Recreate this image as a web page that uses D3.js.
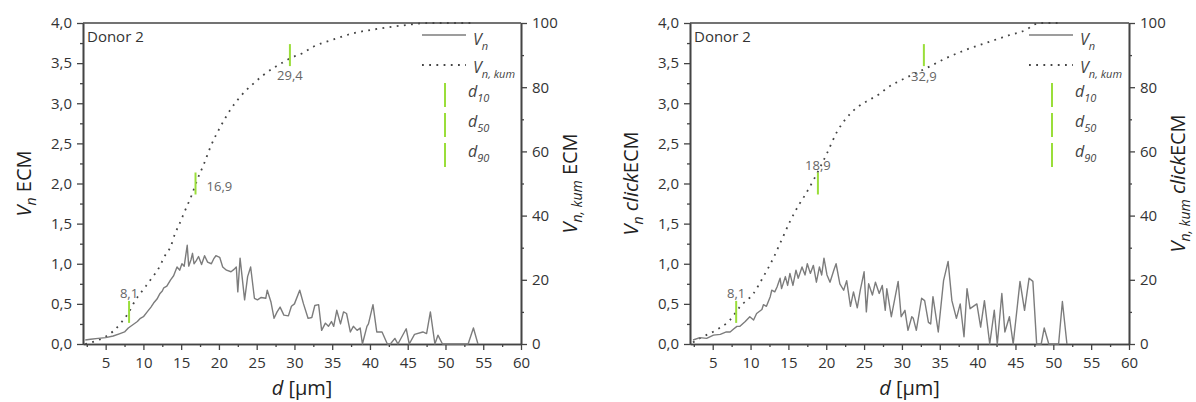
<!DOCTYPE html>
<html>
<head>
<meta charset="utf-8">
<script src="https://cdn.jsdelivr.net/npm/d3@7"></script>
<style>
  body { margin: 0; background: #fff; }
  svg { display: block; }
</style>
</head>
<body>
<script>
// x axis (d in µm)
var xDomain = [2, 60];
var xTicks = [5, 10, 15, 20, 25, 30, 35, 40, 45, 50, 55, 60];
var xMinor = [2.5, 7.5, 12.5, 17.5, 22.5, 27.5, 32.5, 37.5, 42.5, 47.5, 52.5, 57.5];
var yLeftTicks = [0, 0.5, 1, 1.5, 2, 2.5, 3, 3.5, 4];
var yLeftMinor = [0.25, 0.75, 1.25, 1.75, 2.25, 2.75, 3.25, 3.75];
var yRightTicks = [0, 20, 40, 60, 80, 100];
var yRightMinor = [10, 30, 50, 70, 90];

// left panel: ECM, Vn distribution [d, Vn]
var ecmVn = [
  [2.3,0.05],[3,0.06],[4,0.07],[5,0.08],[6,0.1],[6.9,0.13],[7.5,0.15],[8,0.2],[8.6,0.24],
  [9.2,0.28],[9.6,0.32],[10,0.34],[10.5,0.4],[11,0.46],[11.35,0.51],[11.8,0.56],[12.2,0.63],
  [12.5,0.66],[12.7,0.7],[13.1,0.72],[13.6,0.8],[14,0.85],[14.45,0.96],[14.8,0.92],[15.1,1],
  [15.4,0.97],[15.8,1.23],[16,0.97],[16.3,1.05],[16.5,1.13],[16.7,1],[17,1.04],[17.3,1.09],
  [17.7,0.99],[18.1,1.1],[18.5,1.02],[19,1],[19.3,1.06],[19.6,1.1],[20.1,1.08],[20.5,0.96],
  [21,0.92],[21.6,0.9],[22,0.93],[22.3,0.96],[22.5,0.65],[22.8,1.07],[23.4,0.55],[23.8,0.84],
  [24.2,0.96],[24.7,0.57],[25.1,0.55],[25.6,0.58],[26.2,0.57],[26.4,0.67],[26.9,0.52],
  [27.3,0.32],[27.7,0.4],[28.1,0.46],[28.6,0.36],[29.2,0.35],[29.6,0.47],[30,0.5],[30.7,0.67],
  [31.2,0.5],[31.8,0.32],[32.3,0.33],[32.7,0.48],[33.2,0.49],[33.6,0.17],[34.1,0.26],
  [34.5,0.22],[34.9,0.28],[35.2,0.22],[35.6,0.42],[36.1,0.25],[36.5,0.4],[36.9,0.38],
  [37.4,0.15],[37.8,0.22],[38.3,0.17],[38.7,0.2],[39,0],[39.6,0.22],[39.8,0.25],[40.4,0.49],
  [40.9,0.15],[41.6,0.15],[42.3,0],[42.7,0],[43.3,0.07],[43.7,0],[44.8,0.19],[45.2,0],
  [45.9,0.12],[47,0.15],[47.5,0.13],[48,0.4],[48.6,0],[49,0.11],[49.6,0],[53,0],[53.7,0.2],[54.3,0]
];
// left panel: cumulative [d, %]
var ecmKum = [
  [2.3,0],[3.5,0.8],[5,2.3],[6,4],[7,6.5],[8.1,10],[8.9,13.5],[10,17],[11.1,20.5],[12,23.5],
  [12.9,27.7],[13.6,30.3],[14.2,34.5],[14.7,37],[15.5,41.5],[16.4,46.4],[17.1,51],[18,56],
  [18.9,61.5],[20.2,67.7],[21.5,72.9],[22.8,77],[24.6,81.2],[25.9,83.8],[27.5,86.4],
  [28.6,87.9],[29.4,89],[31,90.5],[32.5,92.6],[35.2,94.9],[37.8,96.8],[41.4,98.3],
  [44.9,99.4],[47.6,100],[54,100]
];
var ecmMarks = [8.1, 16.9, 29.4];

// right panel: clickECM, Vn distribution [d, Vn]
var clickVn = [
  [2.4,0.05],[3.3,0.08],[4.2,0.07],[5.1,0.11],[6,0.12],[6.8,0.15],[7.3,0.15],[7.8,0.19],
  [8.2,0.22],[8.6,0.22],[9.3,0.28],[9.9,0.34],[10.4,0.3],[10.8,0.38],[11.5,0.43],[11.7,0.49],
  [12.1,0.47],[12.6,0.59],[12.8,0.67],[13.2,0.65],[13.5,0.71],[13.9,0.82],[14.1,0.69],
  [14.6,0.84],[14.9,0.73],[15.2,0.88],[15.6,0.73],[16,0.92],[16.3,0.82],[16.8,0.96],
  [17.2,0.86],[17.5,1],[17.9,0.88],[18.3,0.98],[18.7,0.77],[19.1,0.96],[19.4,0.86],
  [19.7,1.07],[20.1,0.86],[20.5,0.77],[21,0.92],[21.3,1],[21.8,0.75],[22.3,0.67],[22.7,0.79],
  [23.2,0.47],[23.6,0.65],[24.1,0.45],[24.5,0.67],[25,0.9],[25.3,0.4],[25.6,0.75],[26.1,0.61],
  [26.5,0.77],[27,0.63],[27.4,0.73],[27.8,0.42],[28,0.69],[28.6,0.34],[29.5,0.78],[29.9,0.34],
  [30.4,0.42],[30.8,0.17],[31.3,0.34],[31.5,0.32],[31.9,0.17],[32.6,0.57],[33,0.54],
  [33.5,0.27],[33.8,0.25],[34.1,0.59],[34.8,0.15],[35.5,0.79],[36.1,1.03],[36.6,0.54],
  [37.2,0.32],[37.7,0.5],[38.2,0.09],[38.6,0.69],[39,0.44],[39.9,0.5],[40.4,0.21],[40.9,0.54],
  [41.6,0],[42.2,0.42],[42.6,0],[43.2,0.63],[43.6,0.15],[44.2,0.34],[44.7,0],[45.6,0.78],
  [46.2,0.42],[46.8,0.82],[47.3,0.78],[47.8,0],[48.4,0],[48.8,0.2],[49.4,0],[50.7,0],
  [51.2,0.53],[51.8,0]
];
// right panel: cumulative [d, %]
var clickKum = [
  [2.4,0.5],[3.3,1.8],[5.5,4.4],[7.3,7.5],[8.6,11.6],[10.4,15.8],[11.7,21],[13,26.7],
  [14.1,32.4],[15.2,38.1],[16.5,43.8],[17.2,46.4],[18.3,51],[20.1,59.4],[21.4,66],
  [22.7,70.5],[24.2,73.9],[25.8,76.2],[27.1,78],[28,79.7],[29.3,81.5],[30.6,83],[33.2,85.9],
  [35.8,89],[38.4,91.6],[41.6,94.2],[44.3,96.3],[46.5,98],[47.4,99.4],[48.2,100],[51,100]
];
var clickMarks = [8.1, 18.9, 32.9];
var markPercent = [10, 50, 90];

var FONT = "'Open Sans', 'DejaVu Sans', sans-serif";
var GREEN = "#9ade3a";
var top_ = 23, bottom = 344;

var svg = d3.select("body").append("svg")
  .attr("width", 1196).attr("height", 402)
  .attr("font-family", FONT);

function comma(v, n) {
  return d3.format("." + n + "f")(v).replace(".", ",");
}

// parts: [text, italic, sub]
function rich(sel, parts, size, subSize, subDy) {
  var prevSub = false;
  parts.forEach(function(p) {
    var t = sel.append("tspan").text(p[0])
      .attr("font-style", p[1] ? "italic" : "normal")
      .attr("font-size", p[2] ? subSize : size);
    if (p[2] && !prevSub) t.attr("dy", subDy);
    if (!p[2] && prevSub) t.attr("dy", -subDy);
    prevSub = p[2];
  });
}

function styleAxis(g) {
  g.attr("font-family", FONT).attr("font-size", 15);
  g.select(".domain").attr("stroke", "#444").attr("stroke-width", 1.6);
  g.selectAll(".tick line").attr("stroke", "#444").attr("stroke-width", 1.3);
  g.selectAll(".tick text").attr("fill", "#333");
}

function panel(p) {
  var x = d3.scaleLinear().domain(xDomain).range([p.x0, p.x1]);
  var yL = d3.scaleLinear().domain([0, 4]).range([bottom, top_]);
  var yR = d3.scaleLinear().domain([0, 100]).range([bottom, top_]);
  var g = svg.append("g");

  // minor ticks
  g.append("g").attr("transform", "translate(0," + bottom + ")")
    .call(d3.axisBottom(x).tickValues(xMinor).tickSize(3).tickFormat("").tickSizeOuter(0))
    .call(styleAxis);
  g.append("g").attr("transform", "translate(" + p.x0 + ",0)")
    .call(d3.axisLeft(yL).tickValues(yLeftMinor).tickSize(3).tickFormat("").tickSizeOuter(0))
    .call(styleAxis);
  g.append("g").attr("transform", "translate(" + p.x1 + ",0)")
    .call(d3.axisRight(yR).tickValues(yRightMinor).tickSize(3).tickFormat("").tickSizeOuter(0))
    .call(styleAxis);

  // major ticks
  g.append("g").attr("transform", "translate(0," + bottom + ")")
    .call(d3.axisBottom(x).tickValues(xTicks).tickSize(6).tickPadding(7).tickSizeOuter(0))
    .call(styleAxis);
  g.append("g").attr("transform", "translate(" + p.x0 + ",0)")
    .call(d3.axisLeft(yL).tickValues(yLeftTicks).tickSize(6).tickPadding(5).tickSizeOuter(0)
      .tickFormat(function(d) { return comma(d, 1); }))
    .call(styleAxis);
  g.append("g").attr("transform", "translate(" + p.x1 + ",0)")
    .call(d3.axisRight(yR).tickValues(yRightTicks).tickSize(6).tickPadding(5).tickSizeOuter(0))
    .call(styleAxis);

  // top frame line
  g.append("line")
    .attr("x1", p.x0).attr("x2", p.x1).attr("y1", top_).attr("y2", top_)
    .attr("stroke", "#444").attr("stroke-width", 1.6);

  // cumulative (dotted)
  g.append("path").datum(p.kum)
    .attr("fill", "none").attr("stroke", "#444").attr("stroke-width", 1.8)
    .attr("stroke-dasharray", "1.8,5.4")
    .attr("d", d3.line().curve(d3.curveMonotoneX)
      .x(function(d) { return x(d[0]); }).y(function(d) { return yR(d[1]); }));

  // distribution
  g.append("path").datum(p.vn)
    .attr("fill", "none").attr("stroke", "#7c7c7c").attr("stroke-width", 1.4)
    .attr("stroke-linejoin", "round")
    .attr("d", d3.line()
      .x(function(d) { return x(d[0]); }).y(function(d) { return yL(d[1]); }));

  // d10, d50, d90 markers
  p.marks.forEach(function(m, i) {
    var pc = markPercent[i];
    g.append("line")
      .attr("x1", x(m)).attr("x2", x(m))
      .attr("y1", yR(pc) - 11).attr("y2", yR(pc) + 11)
      .attr("stroke", GREEN).attr("stroke-width", 2);
    var o = p.markLabel[i];
    g.append("text")
      .attr("x", x(m) + o[0]).attr("y", yR(pc) + o[1])
      .attr("text-anchor", o[2])
      .attr("font-size", 13).attr("fill", "#666")
      .text(comma(m, 1));
  });

  // Donor label
  g.append("text").attr("x", p.x0 + 4).attr("y", 42)
    .attr("font-size", 15).attr("fill", "#333").text("Donor 2");

  // legend
  var lx = p.x0 + 339;
  g.append("line").attr("x1", lx).attr("x2", lx + 44).attr("y1", 35).attr("y2", 35)
    .attr("stroke", "#7c7c7c").attr("stroke-width", 1.4);
  rich(g.append("text").attr("x", lx + 51).attr("y", 45).attr("fill", "#444"),
    [["V", true, false], ["n", true, true]], 16, 11, 5);
  g.append("line").attr("x1", lx).attr("x2", lx + 44).attr("y1", 65).attr("y2", 65)
    .attr("stroke", "#444").attr("stroke-width", 1.8).attr("stroke-dasharray", "1.8,5.4");
  rich(g.append("text").attr("x", lx + 51).attr("y", 73).attr("fill", "#444"),
    [["V", true, false], ["n, kum", true, true]], 16, 11, 5);
  ["10", "50", "90"].forEach(function(s, i) {
    var yy = 95 + i * 30;
    g.append("line").attr("x1", lx + 23).attr("x2", lx + 23)
      .attr("y1", yy - 12).attr("y2", yy + 12)
      .attr("stroke", GREEN).attr("stroke-width", 2);
    rich(g.append("text").attr("x", lx + 46).attr("y", yy + 2).attr("fill", "#444"),
      [["d", true, false], [s, true, true]], 16, 11, 5);
  });

  // axis titles
  var cy = (top_ + bottom) / 2;
  rich(g.append("text").attr("text-anchor", "middle")
      .attr("transform", "translate(" + p.leftTitleX + "," + cy + ") rotate(-90)").attr("fill", "#222"),
    p.leftTitle, 20, 14, 5);
  rich(g.append("text").attr("text-anchor", "middle")
      .attr("transform", "translate(" + p.rightTitleX + "," + cy + ") rotate(-90)").attr("fill", "#222"),
    p.rightTitle, 20, 14, 5);
  rich(g.append("text").attr("text-anchor", "middle")
      .attr("x", (p.x0 + p.x1) / 2).attr("y", 395).attr("fill", "#222"),
    [["d", true, false], [" [µm]", false, false]], 20, 14, 5);
}

panel({
  x0: 83, x1: 521, vn: ecmVn, kum: ecmKum, marks: ecmMarks,
  markLabel: [[0, -14, "middle"], [11, 7, "start"], [0, 25, "middle"]],
  leftTitleX: 31, rightTitleX: 577,
  leftTitle: [["V", true, false], ["n", true, true], [" ECM", false, false]],
  rightTitle: [["V", true, false], ["n, kum", true, true], [" ECM", false, false]]
});

panel({
  x0: 690, x1: 1129, vn: clickVn, kum: clickKum, marks: clickMarks,
  markLabel: [[0, -14, "middle"], [0, -14, "middle"], [0, 26, "middle"]],
  leftTitleX: 638, rightTitleX: 1185,
  leftTitle: [["V", true, false], ["n", true, true], [" ", false, false], ["click", true, false], ["ECM", false, false]],
  rightTitle: [["V", true, false], ["n, kum", true, true], [" ", false, false], ["click", true, false], ["ECM", false, false]]
});
</script>
</body>
</html>
